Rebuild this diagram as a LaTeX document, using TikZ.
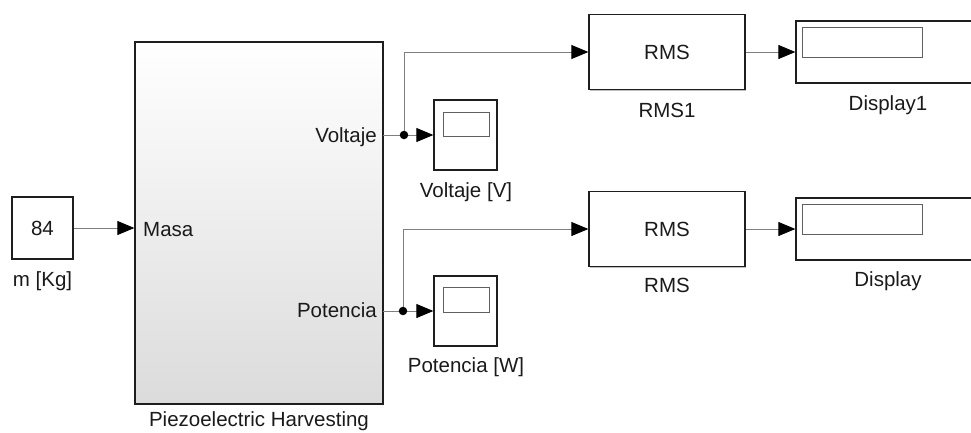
\documentclass[tikz,border=0pt]{standalone}
\usepackage{fontspec}
\setmainfont{Liberation Sans}
\usetikzlibrary{arrows.meta,shadows}
\definecolor{wirecol}{HTML}{7F7F7F}
\definecolor{edgecol}{HTML}{1E1E1E}
\definecolor{txtcol}{HTML}{1A1A1A}
\tikzset{
  blk/.style={draw=edgecol, line width=1.3pt, fill=white, inner sep=0pt,
    drop shadow={shadow xshift=1.2pt, shadow yshift=-1.2pt, fill=black, opacity=0.25},
    font=\fontsize{20.5}{24}\selectfont, text=txtcol},
  screen/.style={draw=gray!75!black, line width=0.9pt, fill=white, inner sep=0pt},
  lbl/.style={font=\fontsize{20.5}{24}\selectfont, text=txtcol, inner sep=0pt, anchor=base},
  wire/.style={draw=wirecol, line width=0.9pt},
  sig/.style={wire, -{Triangle[length=17pt,width=14pt,color=black]}},
  dot/.style={circle, fill=black, inner sep=0pt, minimum size=8.5pt},
}
\begin{document}
\begin{tikzpicture}[x=1pt,y=-1pt]
  \useasboundingbox (0,0) rectangle (971,432);
  \clip (0,0) rectangle (971,432);

  % constant input
  \node[blk, minimum width=61pt, minimum height=62pt] (const) at (42.5,228) {84};
  \node[lbl] (constlbl) at (42.5,286) {m [Kg]};

  % subsystem
  \node[blk, top color=white, bottom color=black!14, minimum width=248pt, minimum height=362pt] (sub) at (259,223) {};
  \node[lbl] (sublbl) at (259,426) {Piezoelectric Harvesting};
  \node[lbl, anchor=base west] (masa) at (143,236) {Masa};
  \node[lbl, anchor=base east] (voltp) at (377,142) {Voltaje};
  \node[lbl, anchor=base east] (potp) at (377,317) {Potencia};

  % scopes
  \node[blk, minimum width=63pt, minimum height=70pt] (scope1) at (465.5,135) {};
  \node[screen, minimum width=46pt, minimum height=24pt] (scope1scr) at (466,124) {};
  \node[lbl] (scope1lbl) at (466,197) {Voltaje [V]};
  \node[blk, minimum width=63pt, minimum height=70pt] (scope2) at (465.5,311) {};
  \node[screen, minimum width=46pt, minimum height=25pt] (scope2scr) at (466,299.5) {};
  \node[lbl] (scope2lbl) at (466,372) {Potencia [W]};

  % RMS blocks
  \node[blk, minimum width=156pt, minimum height=75pt] (rms1) at (667,52) {RMS};
  \node[lbl] (rms1lbl) at (667,117) {RMS1};
  \node[blk, minimum width=156pt, minimum height=75pt] (rms) at (667,229) {RMS};
  \node[lbl] (rmslbl) at (667,292) {RMS};

  % displays
  \node[blk, minimum width=176pt, minimum height=62pt] (disp1) at (884,52) {};
  \node[screen, minimum width=120pt, minimum height=30pt] (disp1scr) at (862,42) {};
  \node[lbl] (disp1lbl) at (888,110) {Display1};
  \node[blk, minimum width=176pt, minimum height=62pt] (disp) at (884,229) {};
  \node[screen, minimum width=120pt, minimum height=30pt] (dispscr) at (862,219) {};
  \node[lbl] (displbl) at (888,286) {Display};

  % port and branch points
  \coordinate (vout) at (383,135);
  \coordinate (vdot) at (404,135);
  \coordinate (pout) at (383,311);
  \coordinate (pdot) at (403,311);

  % connections
  \draw[sig] (const.east) -- (const.east -| sub.west);
  \draw[wire] (vout) -- (vdot);
  \draw[sig] (vdot) -- (scope1.west);
  \draw[sig] (vdot) |- (rms1.west);
  \draw[wire] (pout) -- (pdot);
  \draw[sig] (pdot) -- (scope2.west);
  \draw[sig] (pdot) |- (rms.west);
  \draw[sig] (rms1.east) -- (disp1.west);
  \draw[sig] (rms.east) -- (disp.west);

  \node[dot] (vdotmark) at (vdot) {};
  \node[dot] (pdotmark) at (pdot) {};
\end{tikzpicture}
\end{document}
